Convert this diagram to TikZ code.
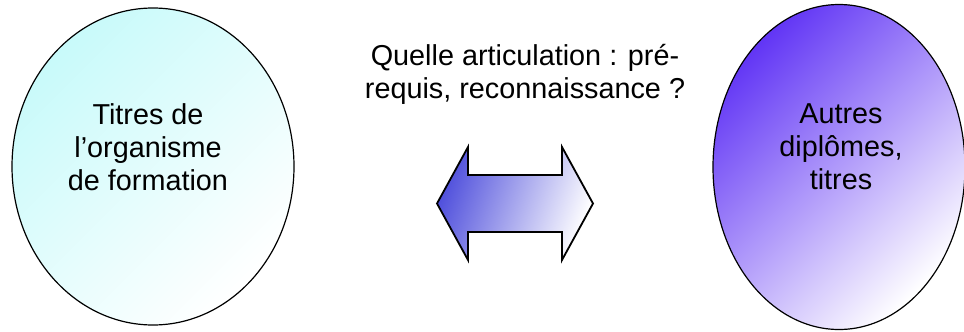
\documentclass[tikz,border=0pt]{standalone}
\usepackage{fontspec}
\setmainfont{Liberation Sans}
\usetikzlibrary{shapes.geometric}
\definecolor{cyanlight}{HTML}{C8FAFA}
\definecolor{violet}{HTML}{6236F5}
\definecolor{arrowblue}{HTML}{5050DC}
\tikzset{
  oval/.style={ellipse, draw=black, line width=1.2pt, inner sep=0pt},
  label/.style={align=center, font=\fontsize{28.8pt}{33pt}\selectfont, inner sep=0pt},
}
\begin{document}
\begin{tikzpicture}[x=1pt,y=-1pt]
\useasboundingbox (0,0) rectangle (964,332);
\node[oval, minimum width=282pt, minimum height=317pt,
  top color=cyanlight, bottom color=white, shading angle=45] (left) at (153,166.5) {};
\node[oval, minimum width=252pt, minimum height=325pt,
  top color=violet, bottom color=white, shading angle=45] (right) at (839,167) {};
\node[label] (lt) at (148,147) {Titres de\\l’organisme\\de formation};
\node[label] (rt) at (841,147) {Autres\\diplômes,\\titres};
\node[label] (q) at (525,74) {Quelle articulation : pré-\\requis, reconnaissance ?};
\path[draw=black, line width=1.8pt, line join=miter,
  left color=arrowblue, right color=white, shading angle=70]
  (437,203.5) -- (468,147) -- (468,175) -- (562,175) -- (562,147) -- (593,203.5)
  -- (562,260) -- (562,232) -- (468,232) -- (468,260) -- cycle;
\end{tikzpicture}
\end{document}
